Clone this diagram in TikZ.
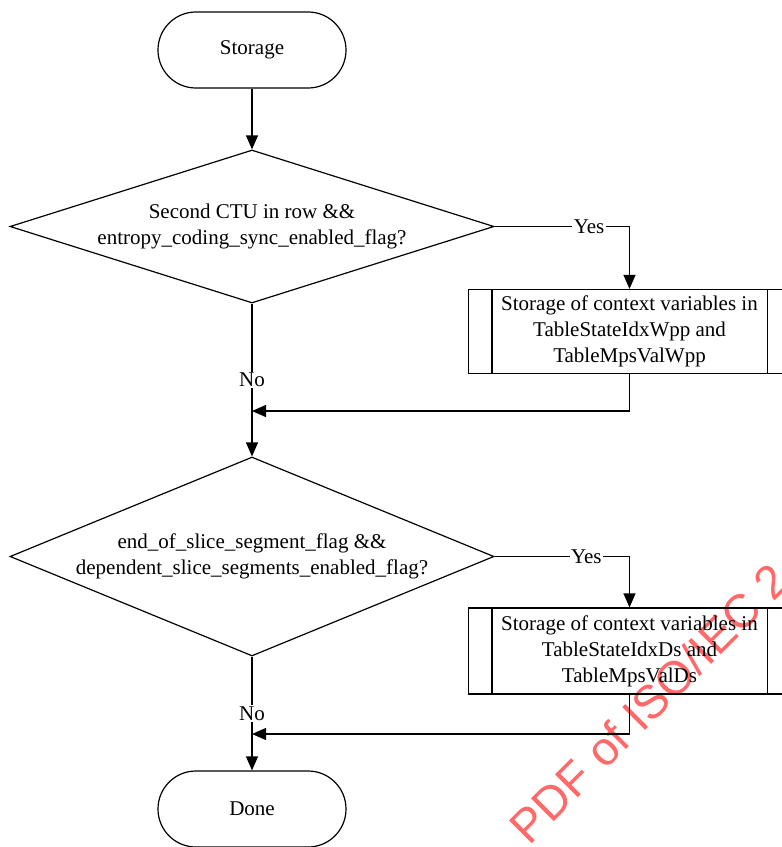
\documentclass[tikz,border=0pt]{standalone}
\usepackage{fontspec}
\setmainfont{Liberation Serif}
\newfontfamily\wmfont{Liberation Sans}
\usepackage{tikz}
\usetikzlibrary{arrows.meta,shapes.geometric,calc}
\definecolor{wmred}{RGB}{255,105,105}
\tikzset{
  arr/.style={-{Triangle[length=14pt,width=12pt]}},
  terminal/.style={draw,rectangle,rounded corners=37.9pt,minimum width=188pt,minimum height=76pt},
  decision/.style={draw,diamond,inner sep=0pt,align=center},
  subproc/.style={draw,rectangle,minimum width=322pt,inner sep=0pt,align=center},
  lbl/.style={fill=white,inner sep=1.5pt}
}
\begin{document}
\begin{tikzpicture}[x=1pt,y=-1pt,line width=1.2pt,font=\fontsize{21}{26}\selectfont]
\pgfmathsetmacro{\midx}{252}
\pgfmathsetmacro{\boxx}{629.5}
\useasboundingbox (0,0) rectangle (782,847);
\clip (0,0) rectangle (782,847);
\node[text=wmred,font=\wmfont\fontsize{47}{47}\selectfont,rotate=45,anchor=base west] (wm) at (527,849) {PDF of ISO/IEC 2};
\node[terminal] (st) at (\midx,50) {Storage};
\node[decision,aspect=3.16,minimum width=484pt,minimum height=153pt] (d1) at (\midx,226.5) {Second CTU in row \&\&\\entropy\_coding\_sync\_enabled\_flag?};
\node[subproc,minimum height=84pt] (b1) at (\boxx,331.5) {Storage of context variables in\\TableStateIdxWpp and\\TableMpsValWpp};
\draw ([xshift=24pt]b1.north west) -- ([xshift=24pt]b1.south west);
\draw ([xshift=-24pt]b1.north east) -- ([xshift=-24pt]b1.south east);
\coordinate (j1) at (\midx,411);
\node[decision,aspect=2.43,minimum width=484pt,minimum height=199pt] (d2) at (\midx,556.5) {end\_of\_slice\_segment\_flag \&\&\\dependent\_slice\_segments\_enabled\_flag?};
\node[subproc,minimum height=86pt] (b2) at (\boxx,651) {Storage of context variables in\\TableStateIdxDs and\\TableMpsValDs};
\draw ([xshift=24pt]b2.north west) -- ([xshift=24pt]b2.south west);
\draw ([xshift=-24pt]b2.north east) -- ([xshift=-24pt]b2.south east);
\coordinate (j2) at (\midx,734);
\node[terminal] (dn) at (\midx,809) {Done};
\draw[arr] (st) -- (d1);
\draw[arr] (d1.east) -- node[lbl,pos=.7] {Yes} (d1.east -| b1.north) -- (b1.north);
\draw[arr] (d1.south) -- node[lbl] {No} (d2.north);
\draw[arr] (b1.south) |- (j1);
\draw[arr] (d2.east) -- node[lbl,pos=.68] {Yes} (d2.east -| b2.north) -- (b2.north);
\draw[arr] (d2.south) -- node[lbl] {No} (dn.north);
\draw[arr] (b2.south) |- (j2);
\end{tikzpicture}
\end{document}
